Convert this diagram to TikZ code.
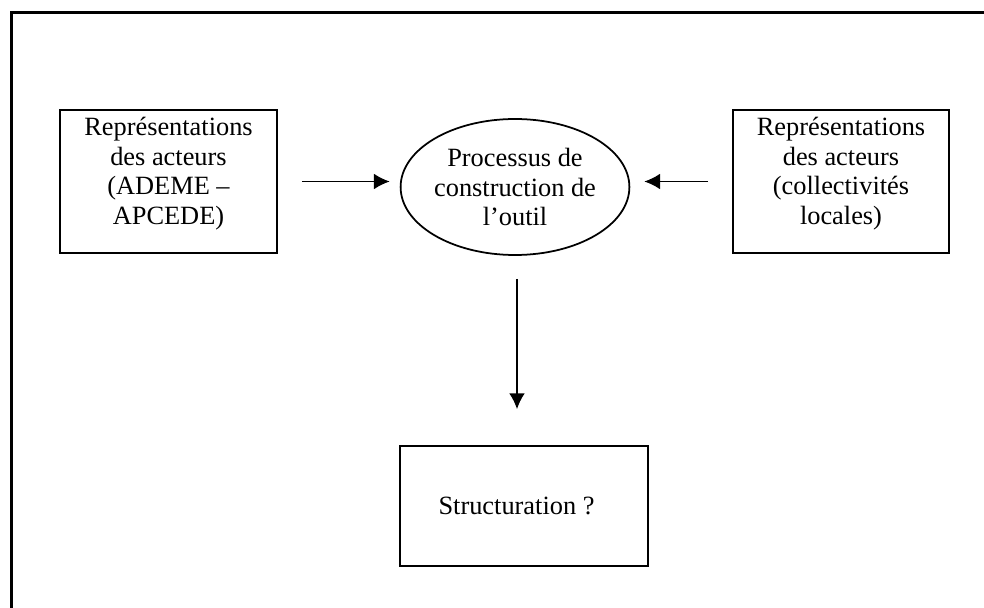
\documentclass[tikz,border=0pt]{standalone}
\usepackage{fontspec}
\setmainfont{Liberation Serif}
\usepackage{tikz}
\usetikzlibrary{arrows.meta,shapes.geometric}

\tikzset{
  boite/.style={draw, line width=1pt, align=center, inner sep=0pt},
  bulle/.style={draw, ellipse, line width=1pt, align=center, inner sep=0pt,
    minimum width=4.34cm, minimum height=2.72cm},
  fleche/.style={line width=1pt, -{Latex[length=9pt,width=9pt]}}
}

\begin{document}
\begin{tikzpicture}[font=\fontsize{15}{16.8}\selectfont]
  \clip (0,0) rectangle (19.68,-12.16);
  \draw[line width=1.4pt] (0.23,-13) -- (0.23,-0.25) -- (21,-0.25);

  \node[boite, minimum width=4.34cm, minimum height=2.86cm] (reprA) at (3.37,-3.63)
    {Représentations\\des acteurs\\(ADEME –\\APCEDE)\\[-0.3em]};
  \node[boite, minimum width=4.32cm, minimum height=2.86cm] (reprB) at (16.82,-3.63)
    {Représentations\\des acteurs\\(collectivités\\locales)\\[-0.3em]};
  \node[bulle] (proc) at (10.3,-3.74) {Processus de\\construction de\\l’outil};
  \node[boite, minimum width=4.96cm, minimum height=2.4cm] (struct) at (10.48,-10.12)
    {Structuration ?\hspace*{0.3cm}};

  \draw[fleche, shorten <=0.48cm, shorten >=0.2cm] (reprA) -- (reprA -| proc.west);
  \draw[fleche, shorten <=0.48cm, shorten >=0.28cm] (reprB) -- (reprB -| proc.east);
  \draw[fleche, shorten <=0.46cm, shorten >=0.72cm] (proc.south) ++(0.04,0) coordinate (depart)
    (depart) -- (depart |- struct.north);
\end{tikzpicture}
\end{document}
